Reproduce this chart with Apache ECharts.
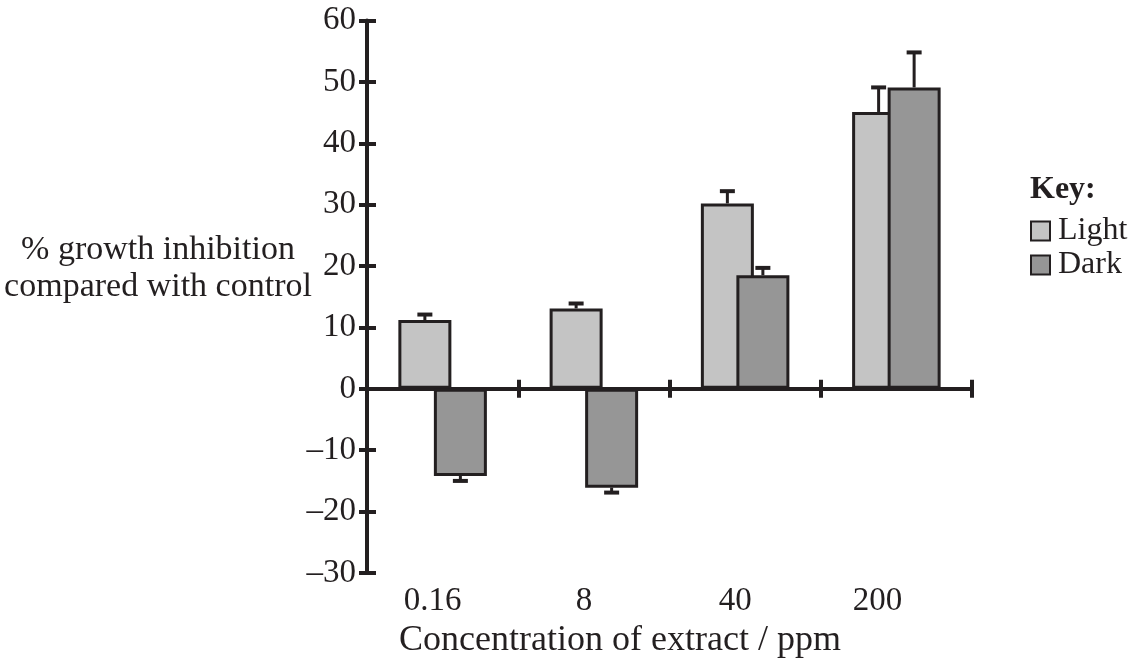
<!DOCTYPE html>
<html>
<head>
<meta charset="utf-8">
<title>Growth inhibition by extract concentration</title>
<script src="https://cdn.jsdelivr.net/npm/echarts@6/dist/echarts.min.js"></script>
<style>
  html, body { margin: 0; padding: 0; background: #ffffff; }
  #chart { width: 1148px; height: 664px; }
</style>
</head>
<body>
<div id="chart"></div>
<script>
// Concentrations of extract (ppm)
const categories = ['0.16', '8', '40', '200'];
// % growth inhibition compared with control
const lightValues = [11.2, 13.1, 30.2, 45.1];
const darkValues = [-14.2, -16.1, 18.5, 49.1];
// error bar lengths (drawn away from zero)
const lightErrors = [0.9, 0.8, 2.0, 4.0];
const darkErrors = [0.8, 0.8, 1.2, 5.7];
// value axis ticks
const yMin = -30, yMax = 60, yStep = 10;

const INK = '#231f20';
const FONT = '"Liberation Serif", "Times New Roman", serif';
const BAR_W = 53;
const GAP_FRAC = -0.33;
const BAR_STEP = BAR_W * (1 + GAP_FRAC);
// right padding of each category label (shifts the label leftwards)
const labelShift = [20, 20, 20, 38];

const errData = [];
lightValues.forEach((v, i) => errData.push([i, v, lightErrors[i], 0]));
darkValues.forEach((v, i) => errData.push([i, v, darkErrors[i], 1]));

function renderError(params, api) {
  const ci = api.value(0), v = api.value(1), e = api.value(2), si = api.value(3);
  const base = api.coord([ci, v]);
  const end = api.coord([ci, v >= 0 ? v + e : v - e]);
  const x = base[0] + (si === 0 ? -1 : 1) * BAR_STEP / 2;
  return {
    type: 'group',
    children: [
      { type: 'line', shape: { x1: x, y1: base[1], x2: x, y2: end[1] },
        style: { stroke: INK, lineWidth: 3 } },
      { type: 'line', shape: { x1: x - 7.5, y1: end[1], x2: x + 7.5, y2: end[1] },
        style: { stroke: INK, lineWidth: 4 } }
    ]
  };
}

const lineStyle = { color: INK, width: 4 };
const tickStyle = { color: INK, width: 4 };

const labelData = categories.map((c, i) => ({
  value: c, textStyle: { padding: [0, labelShift[i], 0, 0] }
}));

const chart = echarts.init(document.getElementById('chart'), null, { renderer: 'canvas' });
chart.setOption({
  animation: false,
  backgroundColor: '#ffffff',
  textStyle: { fontFamily: FONT, color: INK },
  grid: { left: 367, top: 20.5, width: 605, height: 552.5 },
  xAxis: [
    { // axis line at zero with downward boundary ticks
      type: 'category', data: categories, position: 'bottom',
      axisLine: { onZero: true, lineStyle: lineStyle },
      axisTick: { show: true, inside: false, length: 9, lineStyle: tickStyle },
      axisLabel: { show: false }, splitLine: { show: false }
    },
    { // upward half of the boundary ticks
      type: 'category', data: categories, position: 'bottom',
      axisLine: { onZero: true, show: false },
      axisTick: { show: true, inside: true, length: 9, lineStyle: tickStyle },
      axisLabel: { show: false }, splitLine: { show: false }
    },
    { // category labels along the bottom
      type: 'category', data: labelData, position: 'bottom',
      axisLine: { onZero: false, show: false },
      axisTick: { show: false },
      axisLabel: { show: true, margin: 12, fontSize: 33, fontFamily: FONT, color: INK },
      splitLine: { show: false }
    }
  ],
  yAxis: [
    {
      type: 'value', min: yMin, max: yMax, interval: yStep, position: 'left',
      axisLine: { show: true, lineStyle: lineStyle },
      axisTick: { show: true, inside: false, length: 8, lineStyle: tickStyle },
      axisLabel: { margin: 11, fontSize: 33, fontFamily: FONT, color: INK,
                   formatter: v => String(v).replace('-', '\u2013') },
      splitLine: { show: false }
    },
    {
      type: 'value', min: yMin, max: yMax, interval: yStep, position: 'left',
      axisLine: { show: false },
      axisTick: { show: true, inside: true, length: 9, lineStyle: tickStyle },
      axisLabel: { show: false },
      splitLine: { show: false }
    }
  ],
  legend: {
    data: ['Light', 'Dark'],
    orient: 'vertical', left: 1030, top: 215, padding: 0,
    itemWidth: 19, itemHeight: 19, itemGap: 2,
    icon: 'rect',
    textStyle: { fontSize: 32, fontFamily: FONT, color: INK, padding: [0, 0, 0, 3] }
  },
  graphic: [
    { type: 'text', left: 1030, top: 174,
      style: { text: 'Key:', font: 'bold 32px ' + FONT, fill: INK } },
    { type: 'text', x: 158, y: 269,
      style: { text: '% growth inhibition\ncompared with control', font: '34px ' + FONT,
               fill: INK, align: 'center', verticalAlign: 'middle', lineHeight: 37 } },
    { type: 'text', x: 620, y: 641,
      style: { text: 'Concentration of extract / ppm', font: '36px ' + FONT,
               fill: INK, align: 'center', verticalAlign: 'middle' } }
  ],
  series: [
    {
      name: 'Light', type: 'bar', data: lightValues, xAxisIndex: 0, yAxisIndex: 0,
      barWidth: BAR_W, barGap: (GAP_FRAC * 100) + '%',
      itemStyle: { color: '#c4c4c4', borderColor: INK, borderWidth: 3 },
      z: 2
    },
    {
      name: 'Dark', type: 'bar', data: darkValues, xAxisIndex: 0, yAxisIndex: 0,
      barWidth: BAR_W, barGap: (GAP_FRAC * 100) + '%',
      itemStyle: { color: '#969696', borderColor: INK, borderWidth: 3 },
      z: 3
    },
    {
      name: 'error', type: 'custom', data: errData, xAxisIndex: 0, yAxisIndex: 0,
      renderItem: renderError, encode: { x: 0, y: 1 }, z: 4, silent: true
    }
  ]
});
</script>
</body>
</html>
